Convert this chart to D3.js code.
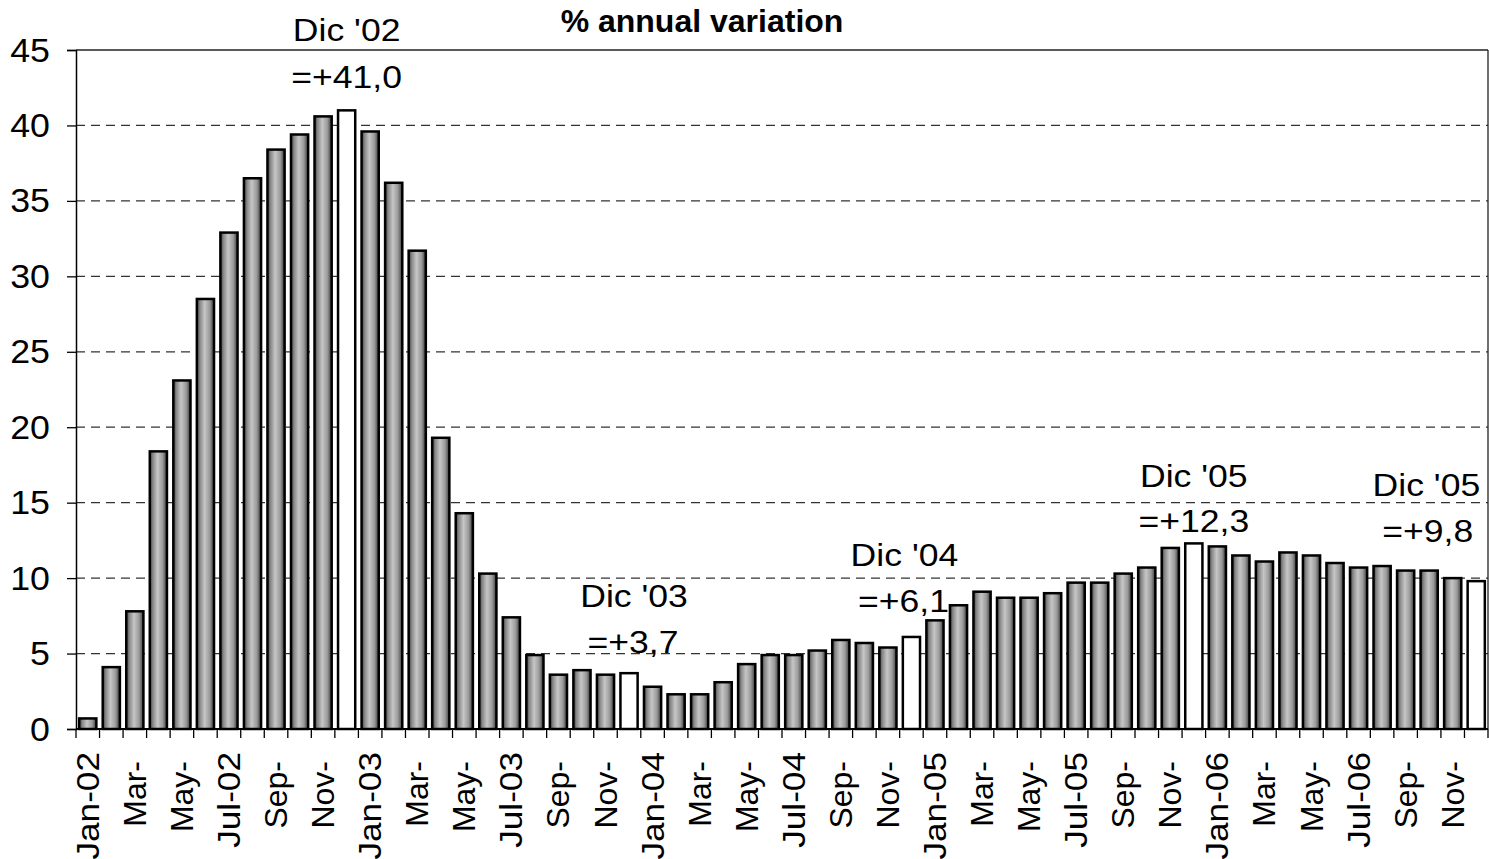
<!DOCTYPE html>
<html><head><meta charset="utf-8">
<script src="https://cdn.jsdelivr.net/npm/d3@7"></script>
<style>body{margin:0;background:#fff}svg{display:block}text{font-family:"Liberation Sans",Arial,sans-serif}</style>
</head><body><svg id="c" width="1489" height="859"></svg>
<script>
const months = ["Jan-02","Feb-02","Mar-02","Apr-02","May-02","Jun-02","Jul-02","Aug-02","Sep-02","Oct-02","Nov-02","Dec-02",
"Jan-03","Feb-03","Mar-03","Apr-03","May-03","Jun-03","Jul-03","Aug-03","Sep-03","Oct-03","Nov-03","Dec-03",
"Jan-04","Feb-04","Mar-04","Apr-04","May-04","Jun-04","Jul-04","Aug-04","Sep-04","Oct-04","Nov-04","Dec-04",
"Jan-05","Feb-05","Mar-05","Apr-05","May-05","Jun-05","Jul-05","Aug-05","Sep-05","Oct-05","Nov-05","Dec-05",
"Jan-06","Feb-06","Mar-06","Apr-06","May-06","Jun-06","Jul-06","Aug-06","Sep-06","Oct-06","Nov-06","Dec-06"];
const values = [0.7,4.1,7.8,18.4,23.1,28.5,32.9,36.5,38.4,39.4,40.6,41.0,
39.6,36.2,31.7,19.3,14.3,10.3,7.4,4.9,3.6,3.9,3.6,3.7,
2.8,2.3,2.3,3.1,4.3,4.9,4.9,5.2,5.9,5.7,5.4,6.1,
7.2,8.2,9.1,8.7,8.7,9.0,9.7,9.7,10.3,10.7,12.0,12.3,
12.1,11.5,11.1,11.7,11.5,11.0,10.7,10.8,10.5,10.5,10.0,9.8];
const tickLabels = ["Jan-02","Mar-","May-","Jul-02","Sep-","Nov-","Jan-03","Mar-","May-","Jul-03","Sep-","Nov-",
"Jan-04","Mar-","May-","Jul-04","Sep-","Nov-","Jan-05","Mar-","May-","Jul-05","Sep-","Nov-",
"Jan-06","Mar-","May-","Jul-06","Sep-","Nov-"];
const highlighted = ["Dec-02","Dec-03","Dec-04","Dec-05","Dec-06"];
const annoMonth = ["Dec-02","Dec-03","Dec-04","Dec-05","Dec-06"];
const annoLine1 = ["Dic '02","Dic '03","Dic '04","Dic '05","Dic '05"];
const annoLine2 = ["=+41,0","=+3,7","=+6,1","=+12,3","=+9,8"];
const yTicks = [0,5,10,15,20,25,30,35,40,45];
const title = "% annual variation";

const svg = d3.select("#c");
const L=76, R=1488, T=50, B=729;
const x = d3.scaleBand().domain(months).range([L,R]).paddingInner(0.27).paddingOuter(0.135);
const xb = d3.scaleBand().domain(months).range([L,R]);
const y = d3.scaleLinear().domain([0,45]).range([B,T]);
const FONT = "'Liberation Sans',Arial,sans-serif";

const defs = svg.append("defs");
const g = defs.append("linearGradient").attr("id","bg").attr("x1","0").attr("x2","1").attr("y1","0").attr("y2","0");
[["0","#3c3c3c"],["0.18","#888"],["0.45","#c6c6c6"],["0.75","#9a9a9a"],["1","#383838"]].forEach(s=>
  g.append("stop").attr("offset",s[0]).attr("stop-color",s[1]));

// gridlines
svg.append("g").selectAll("line").data(yTicks.filter(d=>d>0 && d<45)).join("line")
 .attr("x1",L).attr("x2",R).attr("y1",d=>y(d)).attr("y2",d=>y(d))
 .attr("stroke","#333").attr("stroke-width",1.2).attr("stroke-dasharray","9,6");
// frame top/right
svg.append("line").attr("x1",L).attr("x2",R).attr("y1",y(45)).attr("y2",y(45)).attr("stroke","#222").attr("stroke-width",1.3);
svg.append("line").attr("x1",R).attr("x2",R).attr("y1",y(45)).attr("y2",B).attr("stroke","#222").attr("stroke-width",1.3);

// bars
svg.append("g").selectAll("rect").data(months).join("rect")
 .attr("x",d=>x(d)).attr("width",x.bandwidth())
 .attr("y",(d,i)=>y(values[i])).attr("height",(d,i)=>B-y(values[i]))
 .attr("fill",d=>highlighted.includes(d)?"#fff":"url(#bg)")
 .attr("stroke","#000").attr("stroke-width",2.5);

// y axis
const ya = svg.append("g").attr("transform",`translate(${L},0)`)
 .call(d3.axisLeft(y).tickValues(yTicks).tickSize(9).tickFormat(""));
ya.select(".domain").attr("stroke","#000").attr("stroke-width",1.5);
ya.selectAll(".tick line").attr("stroke","#000").attr("stroke-width",1.3);
svg.append("g").selectAll("text").data(yTicks).join("text")
 .attr("transform",d=>`translate(50,${y(d)+11.5}) scale(1.1,1)`)
 .attr("text-anchor","end").attr("font-size",32.5).attr("fill","#000").text(d3.format("d"));

// x axis: ticks at band boundaries
const xa = svg.append("g");
xa.append("line").attr("x1",L).attr("x2",R).attr("y1",B).attr("y2",B).attr("stroke","#000").attr("stroke-width",2);
xa.selectAll(".xt").data(months.concat(["end"])).join("line").attr("class","xt")
 .attr("x1",(d,i)=>i<months.length?xb(d):R).attr("x2",(d,i)=>i<months.length?xb(d):R)
 .attr("y1",B).attr("y2",B+9).attr("stroke","#000").attr("stroke-width",1.3);
const labelled = months.filter((d,i)=>i%2===0);
xa.selectAll(".xl").data(labelled).join("text").attr("class","xl")
 .attr("transform",(d,i)=>{
   const lab = tickLabels[i];
   const hasNum = /\d/.test(lab);
   const top = hasNum ? B+23 : B+32;
   return `translate(${xb(d)+xb.bandwidth()/2+11},${top}) rotate(-90) scale(${hasNum?1.1:1},1)`;
 })
 .attr("text-anchor","end").attr("font-size",32).attr("fill","#000")
 .text((d,i)=>tickLabels[i]);

// title
svg.append("text").attr("x",702).attr("y",32).attr("text-anchor","middle")
 .attr("font-size",32).attr("font-weight","bold").text(title);

// annotations
const anchors = ["middle","middle","middle","middle","end"];
const dx1 = [0,5,-7,0,4];
const dx2 = [0,4,-8,0,-3];
const by1 = [41,607,566,487,496];
const by2 = [88,653,612,532,542];
annoMonth.forEach((m,i)=>{
  const cx = xb(m)+xb.bandwidth()/2;
  svg.append("text").attr("transform",`translate(${cx+dx1[i]},${by1[i]}) scale(1.13,1)`)
    .attr("text-anchor",anchors[i]).attr("font-size",31.5).text(annoLine1[i]);
  svg.append("text").attr("transform",`translate(${cx+dx2[i]},${by2[i]}) scale(1.13,1)`)
    .attr("text-anchor",anchors[i]).attr("font-size",31.5).text(annoLine2[i]);
});
</script></body></html>
